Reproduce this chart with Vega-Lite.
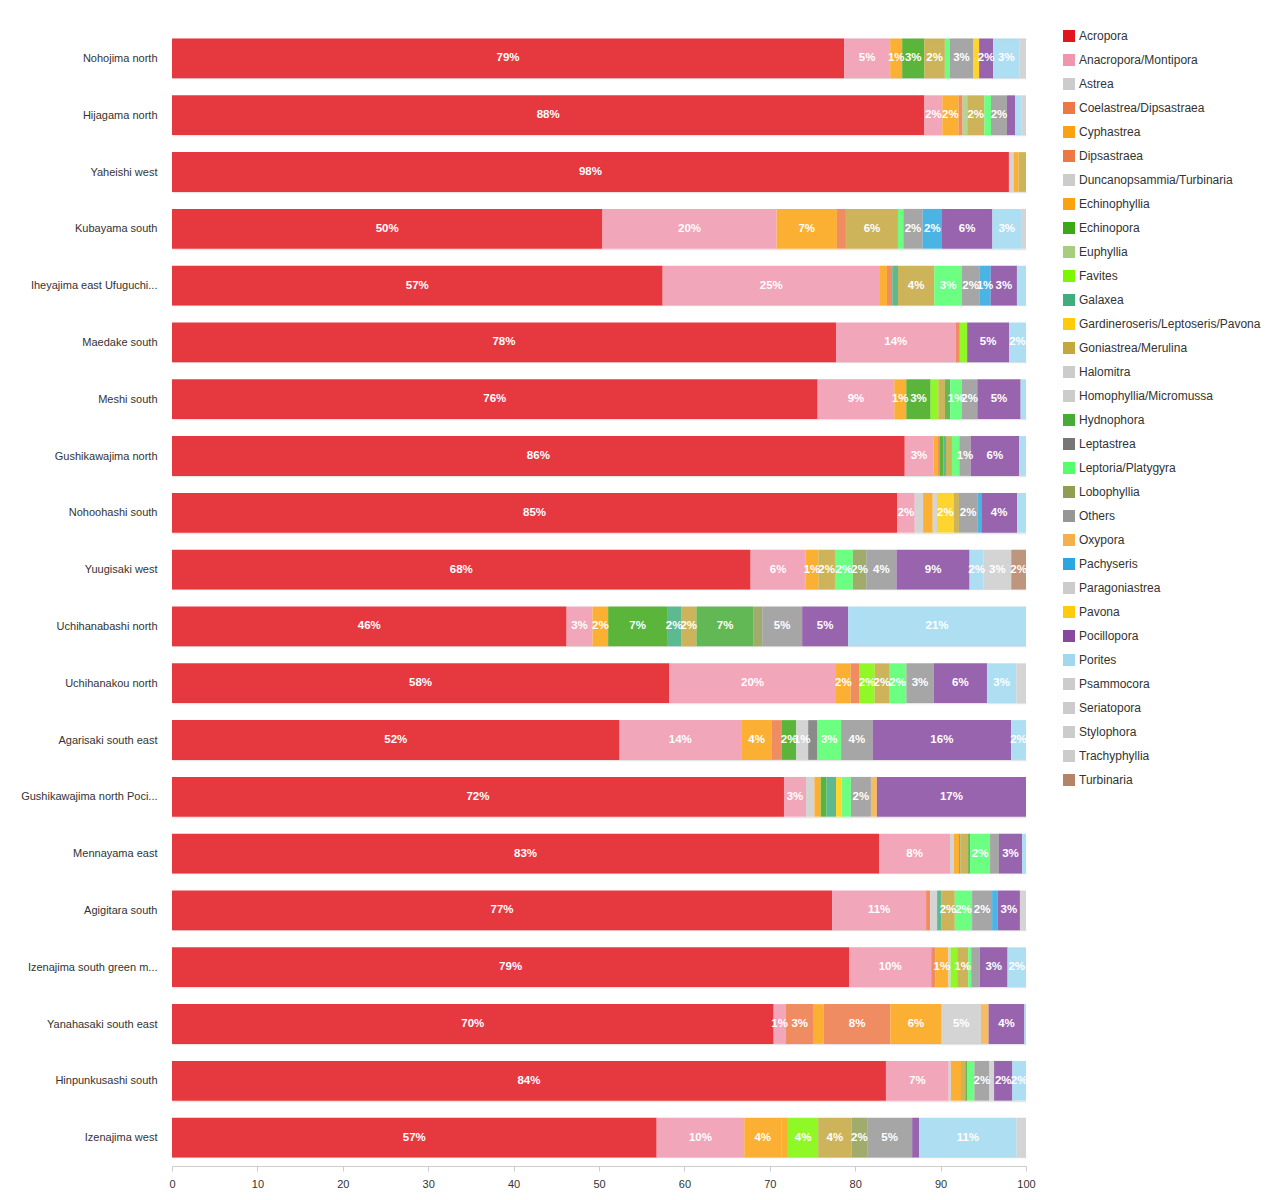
{
  "$schema": "https://vega.github.io/schema/vega-lite/v6.json",
  "width": 854,
  "height": 1136,
  "autosize": {"type": "none"},
  "padding": {"left": 172, "top": 30, "right": 254, "bottom": 34},
  "background": "white",
  "config": {
    "view": {"stroke": null},
    "font": "Liberation Sans",
    "axis": {"labelFont": "Liberation Sans", "labelColor": "#333333", "labelFontSize": 11, "title": null}
  },
  "data": {"values": [
    {"site": "Nohojima north", "genus": "Acropora", "value": 78.7},
    {"site": "Nohojima north", "genus": "Anacropora/Montipora", "value": 5.4},
    {"site": "Nohojima north", "genus": "Cyphastrea", "value": 1.4},
    {"site": "Nohojima north", "genus": "Echinopora", "value": 2.6},
    {"site": "Nohojima north", "genus": "Goniastrea/Merulina", "value": 2.4},
    {"site": "Nohojima north", "genus": "Leptoria/Platygyra", "value": 0.55},
    {"site": "Nohojima north", "genus": "Others", "value": 2.8},
    {"site": "Nohojima north", "genus": "Pavona", "value": 0.66},
    {"site": "Nohojima north", "genus": "Pocillopora", "value": 1.64},
    {"site": "Nohojima north", "genus": "Porites", "value": 3.1},
    {"site": "Nohojima north", "genus": "Psammocora", "value": 0.75},

    {"site": "Hijagama north", "genus": "Acropora", "value": 88.1},
    {"site": "Hijagama north", "genus": "Anacropora/Montipora", "value": 2.1},
    {"site": "Hijagama north", "genus": "Cyphastrea", "value": 1.9},
    {"site": "Hijagama north", "genus": "Dipsastraea", "value": 0.47},
    {"site": "Hijagama north", "genus": "Euphyllia", "value": 0.55},
    {"site": "Hijagama north", "genus": "Goniastrea/Merulina", "value": 2.0},
    {"site": "Hijagama north", "genus": "Leptoria/Platygyra", "value": 0.78},
    {"site": "Hijagama north", "genus": "Others", "value": 1.87},
    {"site": "Hijagama north", "genus": "Pocillopora", "value": 0.94},
    {"site": "Hijagama north", "genus": "Porites", "value": 0.78},
    {"site": "Hijagama north", "genus": "Psammocora", "value": 0.51},

    {"site": "Yaheishi west", "genus": "Acropora", "value": 98.0},
    {"site": "Yaheishi west", "genus": "Astrea", "value": 0.55},
    {"site": "Yaheishi west", "genus": "Cyphastrea", "value": 0.58},
    {"site": "Yaheishi west", "genus": "Goniastrea/Merulina", "value": 0.87},

    {"site": "Kubayama south", "genus": "Acropora", "value": 50.4},
    {"site": "Kubayama south", "genus": "Anacropora/Montipora", "value": 20.4},
    {"site": "Kubayama south", "genus": "Cyphastrea", "value": 7.06},
    {"site": "Kubayama south", "genus": "Dipsastraea", "value": 1.05},
    {"site": "Kubayama south", "genus": "Goniastrea/Merulina", "value": 6.1},
    {"site": "Kubayama south", "genus": "Leptoria/Platygyra", "value": 0.62},
    {"site": "Kubayama south", "genus": "Others", "value": 2.27},
    {"site": "Kubayama south", "genus": "Pachyseris", "value": 2.26},
    {"site": "Kubayama south", "genus": "Pocillopora", "value": 5.9},
    {"site": "Kubayama south", "genus": "Porites", "value": 3.36},
    {"site": "Kubayama south", "genus": "Psammocora", "value": 0.58},

    {"site": "Iheyajima east Ufuguchi...", "genus": "Acropora", "value": 57.45},
    {"site": "Iheyajima east Ufuguchi...", "genus": "Anacropora/Montipora", "value": 25.45},
    {"site": "Iheyajima east Ufuguchi...", "genus": "Cyphastrea", "value": 0.82},
    {"site": "Iheyajima east Ufuguchi...", "genus": "Dipsastraea", "value": 0.62},
    {"site": "Iheyajima east Ufuguchi...", "genus": "Galaxea", "value": 0.67},
    {"site": "Iheyajima east Ufuguchi...", "genus": "Goniastrea/Merulina", "value": 4.25},
    {"site": "Iheyajima east Ufuguchi...", "genus": "Leptoria/Platygyra", "value": 3.24},
    {"site": "Iheyajima east Ufuguchi...", "genus": "Others", "value": 2.03},
    {"site": "Iheyajima east Ufuguchi...", "genus": "Pachyseris", "value": 1.33},
    {"site": "Iheyajima east Ufuguchi...", "genus": "Pocillopora", "value": 3.08},
    {"site": "Iheyajima east Ufuguchi...", "genus": "Porites", "value": 1.06},

    {"site": "Maedake south", "genus": "Acropora", "value": 77.75},
    {"site": "Maedake south", "genus": "Anacropora/Montipora", "value": 14.0},
    {"site": "Maedake south", "genus": "Dipsastraea", "value": 0.5},
    {"site": "Maedake south", "genus": "Favites", "value": 0.86},
    {"site": "Maedake south", "genus": "Pocillopora", "value": 4.9},
    {"site": "Maedake south", "genus": "Porites", "value": 1.99},

    {"site": "Meshi south", "genus": "Acropora", "value": 75.6},
    {"site": "Meshi south", "genus": "Anacropora/Montipora", "value": 8.98},
    {"site": "Meshi south", "genus": "Cyphastrea", "value": 1.4},
    {"site": "Meshi south", "genus": "Echinopora", "value": 2.85},
    {"site": "Meshi south", "genus": "Favites", "value": 0.9},
    {"site": "Meshi south", "genus": "Goniastrea/Merulina", "value": 0.78},
    {"site": "Meshi south", "genus": "Hydnophora", "value": 0.62},
    {"site": "Meshi south", "genus": "Leptoria/Platygyra", "value": 1.37},
    {"site": "Meshi south", "genus": "Others", "value": 1.8},
    {"site": "Meshi south", "genus": "Pocillopora", "value": 5.07},
    {"site": "Meshi south", "genus": "Porites", "value": 0.63},

    {"site": "Gushikawajima north", "genus": "Acropora", "value": 85.8},
    {"site": "Gushikawajima north", "genus": "Anacropora/Montipora", "value": 3.35},
    {"site": "Gushikawajima north", "genus": "Cyphastrea", "value": 0.55},
    {"site": "Gushikawajima north", "genus": "Dipsastraea", "value": 0.23},
    {"site": "Gushikawajima north", "genus": "Echinopora", "value": 0.4},
    {"site": "Gushikawajima north", "genus": "Galaxea", "value": 0.3},
    {"site": "Gushikawajima north", "genus": "Goniastrea/Merulina", "value": 0.7},
    {"site": "Gushikawajima north", "genus": "Leptoria/Platygyra", "value": 0.86},
    {"site": "Gushikawajima north", "genus": "Others", "value": 1.33},
    {"site": "Gushikawajima north", "genus": "Pocillopora", "value": 5.66},
    {"site": "Gushikawajima north", "genus": "Porites", "value": 0.82},

    {"site": "Nohoohashi south", "genus": "Acropora", "value": 84.9},
    {"site": "Nohoohashi south", "genus": "Anacropora/Montipora", "value": 2.07},
    {"site": "Nohoohashi south", "genus": "Astrea", "value": 0.98},
    {"site": "Nohoohashi south", "genus": "Cyphastrea", "value": 1.13},
    {"site": "Nohoohashi south", "genus": "Duncanopsammia/Turbinaria", "value": 0.5},
    {"site": "Nohoohashi south", "genus": "Gardineroseris/Leptoseris/Pavona", "value": 1.95},
    {"site": "Nohoohashi south", "genus": "Goniastrea/Merulina", "value": 0.62},
    {"site": "Nohoohashi south", "genus": "Others", "value": 2.15},
    {"site": "Nohoohashi south", "genus": "Pachyseris", "value": 0.47},
    {"site": "Nohoohashi south", "genus": "Pocillopora", "value": 4.18},
    {"site": "Nohoohashi south", "genus": "Porites", "value": 1.05},

    {"site": "Yuugisaki west", "genus": "Acropora", "value": 67.75},
    {"site": "Yuugisaki west", "genus": "Anacropora/Montipora", "value": 6.45},
    {"site": "Yuugisaki west", "genus": "Cyphastrea", "value": 1.48},
    {"site": "Yuugisaki west", "genus": "Goniastrea/Merulina", "value": 1.95},
    {"site": "Yuugisaki west", "genus": "Leptoria/Platygyra", "value": 2.1},
    {"site": "Yuugisaki west", "genus": "Lobophyllia", "value": 1.56},
    {"site": "Yuugisaki west", "genus": "Others", "value": 3.55},
    {"site": "Yuugisaki west", "genus": "Pocillopora", "value": 8.55},
    {"site": "Yuugisaki west", "genus": "Porites", "value": 1.64},
    {"site": "Yuugisaki west", "genus": "Psammocora", "value": 3.24},
    {"site": "Yuugisaki west", "genus": "Turbinaria", "value": 1.73},

    {"site": "Uchihanabashi north", "genus": "Acropora", "value": 46.2},
    {"site": "Uchihanabashi north", "genus": "Anacropora/Montipora", "value": 3.04},
    {"site": "Uchihanabashi north", "genus": "Cyphastrea", "value": 1.83},
    {"site": "Uchihanabashi north", "genus": "Echinopora", "value": 6.9},
    {"site": "Uchihanabashi north", "genus": "Galaxea", "value": 1.64},
    {"site": "Uchihanabashi north", "genus": "Goniastrea/Merulina", "value": 1.8},
    {"site": "Uchihanabashi north", "genus": "Hydnophora", "value": 6.7},
    {"site": "Uchihanabashi north", "genus": "Lobophyllia", "value": 1.0},
    {"site": "Uchihanabashi north", "genus": "Others", "value": 4.68},
    {"site": "Uchihanabashi north", "genus": "Pocillopora", "value": 5.39},
    {"site": "Uchihanabashi north", "genus": "Porites", "value": 20.82},

    {"site": "Uchihanakou north", "genus": "Acropora", "value": 58.2},
    {"site": "Uchihanakou north", "genus": "Anacropora/Montipora", "value": 19.55},
    {"site": "Uchihanakou north", "genus": "Cyphastrea", "value": 1.72},
    {"site": "Uchihanakou north", "genus": "Dipsastraea", "value": 1.05},
    {"site": "Uchihanakou north", "genus": "Favites", "value": 1.76},
    {"site": "Uchihanakou north", "genus": "Goniastrea/Merulina", "value": 1.68},
    {"site": "Uchihanakou north", "genus": "Leptoria/Platygyra", "value": 2.03},
    {"site": "Uchihanakou north", "genus": "Others", "value": 3.2},
    {"site": "Uchihanakou north", "genus": "Pocillopora", "value": 6.24},
    {"site": "Uchihanakou north", "genus": "Porites", "value": 3.44},
    {"site": "Uchihanakou north", "genus": "Psammocora", "value": 1.13},

    {"site": "Agarisaki south east", "genus": "Acropora", "value": 52.4},
    {"site": "Agarisaki south east", "genus": "Anacropora/Montipora", "value": 14.25},
    {"site": "Agarisaki south east", "genus": "Cyphastrea", "value": 3.6},
    {"site": "Agarisaki south east", "genus": "Dipsastraea", "value": 1.17},
    {"site": "Agarisaki south east", "genus": "Echinopora", "value": 1.67},
    {"site": "Agarisaki south east", "genus": "Halomitra", "value": 1.4},
    {"site": "Agarisaki south east", "genus": "Leptastrea", "value": 1.09},
    {"site": "Agarisaki south east", "genus": "Leptoria/Platygyra", "value": 2.77},
    {"site": "Agarisaki south east", "genus": "Others", "value": 3.7},
    {"site": "Agarisaki south east", "genus": "Pocillopora", "value": 16.2},
    {"site": "Agarisaki south east", "genus": "Porites", "value": 1.75},

    {"site": "Gushikawajima north Poci...", "genus": "Acropora", "value": 71.66},
    {"site": "Gushikawajima north Poci...", "genus": "Anacropora/Montipora", "value": 2.58},
    {"site": "Gushikawajima north Poci...", "genus": "Astrea", "value": 0.98},
    {"site": "Gushikawajima north Poci...", "genus": "Cyphastrea", "value": 0.74},
    {"site": "Gushikawajima north Poci...", "genus": "Echinopora", "value": 0.66},
    {"site": "Gushikawajima north Poci...", "genus": "Galaxea", "value": 1.13},
    {"site": "Gushikawajima north Poci...", "genus": "Gardineroseris/Leptoseris/Pavona", "value": 0.66},
    {"site": "Gushikawajima north Poci...", "genus": "Leptoria/Platygyra", "value": 1.09},
    {"site": "Gushikawajima north Poci...", "genus": "Others", "value": 2.34},
    {"site": "Gushikawajima north Poci...", "genus": "Oxypora", "value": 0.7},
    {"site": "Gushikawajima north Poci...", "genus": "Pocillopora", "value": 17.46},

    {"site": "Mennayama east", "genus": "Acropora", "value": 82.8},
    {"site": "Mennayama east", "genus": "Anacropora/Montipora", "value": 8.3},
    {"site": "Mennayama east", "genus": "Astrea", "value": 0.47},
    {"site": "Mennayama east", "genus": "Cyphastrea", "value": 0.59},
    {"site": "Mennayama east", "genus": "Galaxea", "value": 0.16},
    {"site": "Mennayama east", "genus": "Goniastrea/Merulina", "value": 0.9},
    {"site": "Mennayama east", "genus": "Hydnophora", "value": 0.23},
    {"site": "Mennayama east", "genus": "Leptoria/Platygyra", "value": 2.34},
    {"site": "Mennayama east", "genus": "Others", "value": 1.05},
    {"site": "Mennayama east", "genus": "Pocillopora", "value": 2.69},
    {"site": "Mennayama east", "genus": "Porites", "value": 0.47},

    {"site": "Agigitara south", "genus": "Acropora", "value": 77.3},
    {"site": "Agigitara south", "genus": "Anacropora/Montipora", "value": 11.0},
    {"site": "Agigitara south", "genus": "Dipsastraea", "value": 0.47},
    {"site": "Agigitara south", "genus": "Duncanopsammia/Turbinaria", "value": 0.82},
    {"site": "Agigitara south", "genus": "Galaxea", "value": 0.47},
    {"site": "Agigitara south", "genus": "Goniastrea/Merulina", "value": 1.6},
    {"site": "Agigitara south", "genus": "Leptoria/Platygyra", "value": 2.03},
    {"site": "Agigitara south", "genus": "Others", "value": 2.34},
    {"site": "Agigitara south", "genus": "Pachyseris", "value": 0.66},
    {"site": "Agigitara south", "genus": "Pocillopora", "value": 2.6},
    {"site": "Agigitara south", "genus": "Psammocora", "value": 0.71},

    {"site": "Izenajima south green m...", "genus": "Acropora", "value": 79.3},
    {"site": "Izenajima south green m...", "genus": "Anacropora/Montipora", "value": 9.6},
    {"site": "Izenajima south green m...", "genus": "Coelastrea/Dipsastraea", "value": 0.51},
    {"site": "Izenajima south green m...", "genus": "Cyphastrea", "value": 1.48},
    {"site": "Izenajima south green m...", "genus": "Duncanopsammia/Turbinaria", "value": 0.27},
    {"site": "Izenajima south green m...", "genus": "Favites", "value": 0.78},
    {"site": "Izenajima south green m...", "genus": "Goniastrea/Merulina", "value": 1.29},
    {"site": "Izenajima south green m...", "genus": "Leptoria/Platygyra", "value": 0.35},
    {"site": "Izenajima south green m...", "genus": "Others", "value": 1.02},
    {"site": "Izenajima south green m...", "genus": "Pocillopora", "value": 3.24},
    {"site": "Izenajima south green m...", "genus": "Porites", "value": 2.16},

    {"site": "Yanahasaki south east", "genus": "Acropora", "value": 70.45},
    {"site": "Yanahasaki south east", "genus": "Anacropora/Montipora", "value": 1.4},
    {"site": "Yanahasaki south east", "genus": "Coelastrea/Dipsastraea", "value": 3.3},
    {"site": "Yanahasaki south east", "genus": "Cyphastrea", "value": 1.17},
    {"site": "Yanahasaki south east", "genus": "Dipsastraea", "value": 7.8},
    {"site": "Yanahasaki south east", "genus": "Echinophyllia", "value": 6.0},
    {"site": "Yanahasaki south east", "genus": "Halomitra", "value": 4.6},
    {"site": "Yanahasaki south east", "genus": "Oxypora", "value": 0.9},
    {"site": "Yanahasaki south east", "genus": "Pocillopora", "value": 4.18},
    {"site": "Yanahasaki south east", "genus": "Porites", "value": 0.2},

    {"site": "Hinpunkusashi south", "genus": "Acropora", "value": 83.6},
    {"site": "Hinpunkusashi south", "genus": "Anacropora/Montipora", "value": 7.35},
    {"site": "Hinpunkusashi south", "genus": "Astrea", "value": 0.27},
    {"site": "Hinpunkusashi south", "genus": "Cyphastrea", "value": 1.17},
    {"site": "Hinpunkusashi south", "genus": "Goniastrea/Merulina", "value": 0.5},
    {"site": "Hinpunkusashi south", "genus": "Hydnophora", "value": 0.2},
    {"site": "Hinpunkusashi south", "genus": "Leptoria/Platygyra", "value": 0.86},
    {"site": "Hinpunkusashi south", "genus": "Others", "value": 1.76},
    {"site": "Hinpunkusashi south", "genus": "Paragoniastrea", "value": 0.55},
    {"site": "Hinpunkusashi south", "genus": "Pocillopora", "value": 2.14},
    {"site": "Hinpunkusashi south", "genus": "Porites", "value": 1.6},

    {"site": "Izenajima west", "genus": "Acropora", "value": 56.75},
    {"site": "Izenajima west", "genus": "Anacropora/Montipora", "value": 10.26},
    {"site": "Izenajima west", "genus": "Cyphastrea", "value": 4.33},
    {"site": "Izenajima west", "genus": "Echinophyllia", "value": 0.78},
    {"site": "Izenajima west", "genus": "Favites", "value": 3.55},
    {"site": "Izenajima west", "genus": "Goniastrea/Merulina", "value": 3.9},
    {"site": "Izenajima west", "genus": "Lobophyllia", "value": 1.83},
    {"site": "Izenajima west", "genus": "Others", "value": 5.27},
    {"site": "Izenajima west", "genus": "Pocillopora", "value": 0.82},
    {"site": "Izenajima west", "genus": "Porites", "value": 11.4},
    {"site": "Izenajima west", "genus": "Psammocora", "value": 1.11}
  ]},
  "transform": [
    {"stack": "value", "groupby": ["site"], "sort": [{"field": "genus", "order": "ascending"}], "as": ["v0", "v1"]}
  ],
  "encoding": {
    "y": {
      "field": "site", "type": "nominal",
      "sort": ["Nohojima north", "Hijagama north", "Yaheishi west", "Kubayama south", "Iheyajima east Ufuguchi...", "Maedake south", "Meshi south", "Gushikawajima north", "Nohoohashi south", "Yuugisaki west", "Uchihanabashi north", "Uchihanakou north", "Agarisaki south east", "Gushikawajima north Poci...", "Mennayama east", "Agigitara south", "Izenajima south green m...", "Yanahasaki south east", "Hinpunkusashi south", "Izenajima west"],
      "scale": {"paddingInner": 0.3, "paddingOuter": 0.15},
      "axis": {"ticks": false, "domain": false, "labelPadding": 15, "grid": true, "tickBand": "extent", "gridColor": "#e6e6e6", "gridWidth": 1.5, "labelLimit": 200}
    }
  },
  "layer": [
    {
      "mark": {"type": "bar", "opacity": 0.85, "strokeWidth": 0},
      "encoding": {
        "x": {"field": "v0", "type": "quantitative", "scale": {"domain": [0, 100], "nice": false},
              "axis": {"values": [0, 10, 20, 30, 40, 50, 60, 70, 80, 90, 100], "grid": false, "domain": true, "domainColor": "#cccccc", "ticks": true, "tickColor": "#cccccc", "tickSize": 5, "labelPadding": 7, "labelFlush": false}},
        "x2": {"field": "v1"},
        "color": {
          "field": "genus", "type": "nominal",
          "scale": {
            "domain": ["Acropora", "Anacropora/Montipora", "Astrea", "Coelastrea/Dipsastraea", "Cyphastrea", "Dipsastraea", "Duncanopsammia/Turbinaria", "Echinophyllia", "Echinopora", "Euphyllia", "Favites", "Galaxea", "Gardineroseris/Leptoseris/Pavona", "Goniastrea/Merulina", "Halomitra", "Homophyllia/Micromussa", "Hydnophora", "Leptastrea", "Leptoria/Platygyra", "Lobophyllia", "Others", "Oxypora", "Pachyseris", "Paragoniastrea", "Pavona", "Pocillopora", "Porites", "Psammocora", "Seriatopora", "Stylophora", "Trachyphyllia", "Turbinaria"],
            "range": ["#e2151d", "#ef96ae", "#cccccc", "#ed7846", "#faa210", "#ed7846", "#cccccc", "#faa210", "#3da817", "#a8cc80", "#7df700", "#40ad7c", "#fecc0a", "#c4a73d", "#cccccc", "#cccccc", "#47ac36", "#767676", "#54ff6c", "#909e52", "#969696", "#f4b04a", "#2aa7e0", "#cccccc", "#fecc0a", "#8649a0", "#a0d8f0", "#cccccc", "#cccccc", "#cccccc", "#cccccc", "#b38466"]
          },
          "legend": {"title": null, "orient": "right", "offset": 37, "padding": 0, "symbolLimit": 0, "symbolType": "square", "symbolSize": 144, "symbolOpacity": 1, "symbolStrokeWidth": 0, "labelFontSize": 12, "labelColor": "#333333", "labelFont": "Liberation Sans", "labelLimit": 300, "labelOffset": 4, "rowPadding": 12}
        }
      }
    },
    {
      "transform": [
        {"filter": "datum.value >= 1.2"},
        {"calculate": "(datum.v0 + datum.v1) / 2", "as": "mid"},
        {"calculate": "format(datum.value, '.0f') + '%'", "as": "label"}
      ],
      "mark": {"type": "text", "color": "white", "fontWeight": "bold", "fontSize": 11.5, "font": "Liberation Sans", "align": "center", "baseline": "middle"},
      "encoding": {
        "x": {"field": "mid", "type": "quantitative"},
        "text": {"field": "label"}
      }
    }
  ]
}
